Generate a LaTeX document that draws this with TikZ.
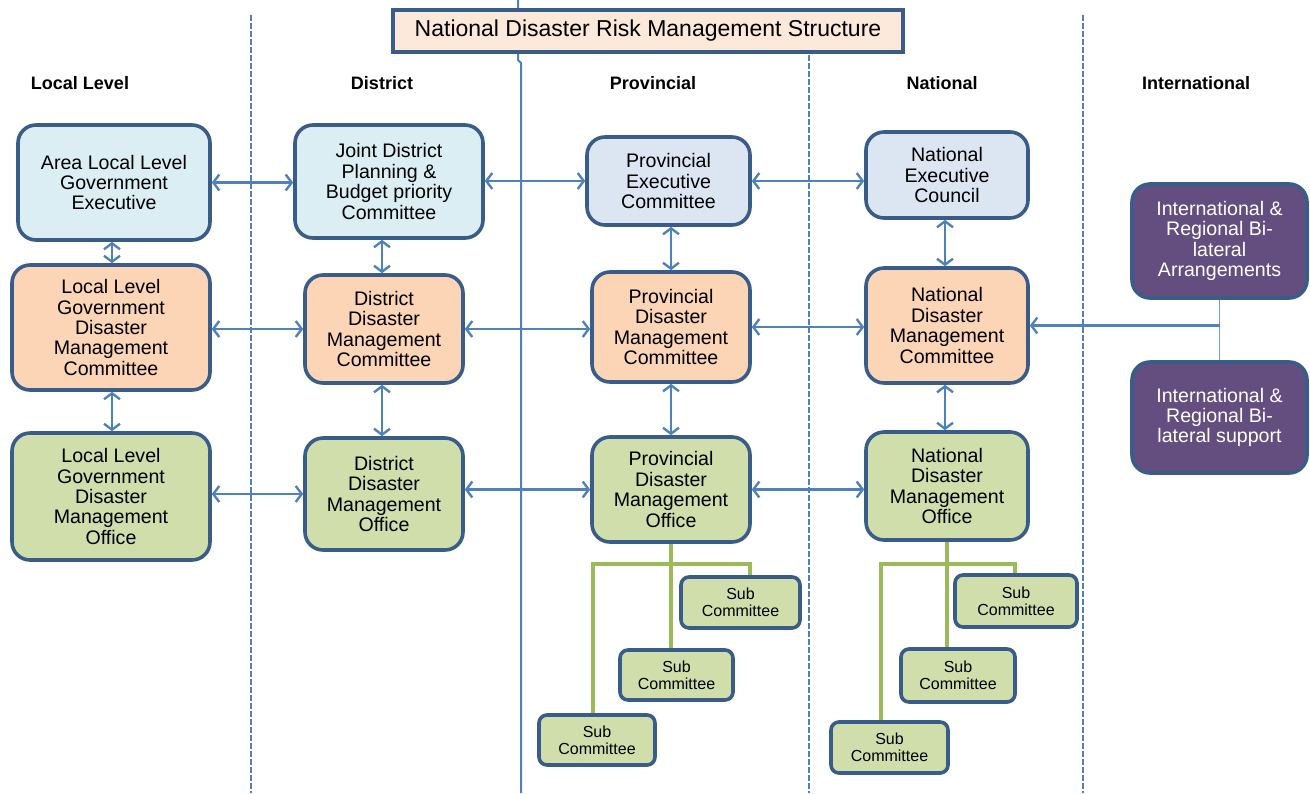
\documentclass[tikz,border=0pt]{standalone}
\usepackage{fontspec}
\setmainfont{Liberation Sans}
\usepackage{tikz}
\usetikzlibrary{positioning}
\usetikzlibrary{arrows.meta}
\definecolor{frame}{RGB}{58,92,136}
\definecolor{arrowblue}{RGB}{79,129,189}
\definecolor{execblue}{RGB}{219,238,243}
\definecolor{provblue}{RGB}{220,230,242}
\definecolor{peach}{RGB}{251,213,181}
\definecolor{leaf}{RGB}{207,222,170}
\definecolor{twiggreen}{RGB}{155,187,89}
\definecolor{plum}{RGB}{100,78,128}
\definecolor{titlefill}{RGB}{253,233,217}
\tikzset{
	unit/.style={
		draw=frame,
		line width=1.8pt,
		rounded corners=9pt,
		align=center,
		inner sep=2pt,
		font=\fontsize{9.8}{10.2}\selectfont},
	sz/.style 2 args={minimum width=#1*0.5pt, minimum height=#2*0.5pt},
	exec/.style={unit, fill=execblue},
	provexec/.style={unit, fill=provblue},
	cttee/.style={unit, fill=peach},
	office/.style={unit, fill=leaf},
	intl/.style={unit, fill=plum, text=white},
	subc/.style={
		draw=frame,
		line width=1.8pt,
		rounded corners=4pt,
		fill=leaf,
		align=center,
		inner sep=1pt,
		font=\fontsize{8}{8.6}\selectfont},
	head/.style={font=\bfseries\fontsize{9}{10}\selectfont},
	sep/.style={draw=arrowblue, line width=1pt, dash pattern=on 3pt off 1pt},
	twig/.style={draw=twiggreen, line width=2pt},
	every edge/.style={
		draw=arrowblue,
		line width=1.2pt,
		{Straight Barb[length=3pt,width=8pt]}-{Straight Barb[length=3pt,width=8pt]}}
}
\begin{document}
\begin{tikzpicture}[x=0.5pt, y=-0.5pt]
	\useasboundingbox (0,0) rectangle (1310,793);
	% column separators
	\draw[sep] (251,15) -- (251,793);
	\draw[draw=arrowblue, line width=1pt] (518,0) -- (518,60) -- (521,63) -- (521,793);
	\draw[sep] (809,55) -- (809,793);
	\draw[sep] (1083,15) -- (1083,793);
	% title and column heads
	\node[draw=frame, line width=2pt, fill=titlefill, sz={510}{42}, font=\fontsize{11.5}{13}\selectfont] (title) at (648,31) {National Disaster Risk Management Structure};
	\node[head] (hLocal) at (80,83) {Local Level};
	\node[head] (hDistrict) at (382,83) {District};
	\node[head] (hProvince) at (653,83) {Provincial};
	\node[head] (hNational) at (942,83) {National};
	\node[head] (hIntl) at (1196,83) {International};
	% local level
	\node[exec, sz={192}{115}] (LE) at (114,182.5) {Area Local Level\\Government\\Executive};
	\node[cttee, sz={198}{125}] (LC) at (111,327.5) {Local Level\\Government\\Disaster\\Management\\Committee};
	\node[office, sz={198}{127}] (LO) at (111,496.5) {Local Level\\Government\\Disaster\\Management\\Office};
	% district
	\node[exec, sz={188}{113}] (DE) at (389,181.5) {Joint District\\Planning \&\\Budget priority\\Committee};
	\node[cttee, sz={158}{108}] (DC) at (384,329) {District\\Disaster\\Management\\Committee};
	\node[office, sz={158}{112}] (DO) at (384,494) {District\\Disaster\\Management\\Office};
	% provincial
	\node[provexec, sz={163}{88}] (PE) at (668.5,181) {Provincial\\Executive\\Committee};
	\node[cttee, sz={158}{110}] (PC) at (671,327) {Provincial\\Disaster\\Management\\Committee};
	\node[office, sz={158}{105}] (PO) at (671,489.5) {Provincial\\Disaster\\Management\\Office};
	% national
	\node[provexec, sz={162}{86}] (NE) at (947,175) {National\\Executive\\Council};
	\node[cttee, sz={162}{115}] (NC) at (947,325.5) {National\\Disaster\\Management\\Committee};
	\node[office, sz={162}{108}] (NO) at (947,486) {National\\Disaster\\Management\\Office};
	% international
	\node[intl, sz={175}{114}] (IA) at (1219.5,241) {International \&\\Regional Bi-\\lateral\\Arrangements};
	\node[intl, sz={175}{111}] (IS) at (1219.5,417.5) {International \&\\Regional Bi-\\lateral support};
	% sub committees
	\node[subc, sz={119}{51}] (PS1) at (740.5,602.5) {Sub\\Committee};
	\node[subc, sz={113}{50}] (PS2) at (676.5,675) {Sub\\Committee};
	\node[subc, sz={116}{50}] (PS3) at (597,740) {Sub\\Committee};
	\node[subc, sz={122}{52}] (NS1) at (1016,601) {Sub\\Committee};
	\node[subc, sz={114}{53}] (NS2) at (958,675.5) {Sub\\Committee};
	\node[subc, sz={117}{51}] (NS3) at (889.5,747.5) {Sub\\Committee};
	% across
	\draw (LE.east) edge (LE.east -| DE.west);
	\draw (PE.west -| DE.east) edge (PE.west);
	\draw (PE.east) edge (PE.east -| NE.west);
	\draw (DC.west -| LC.east) edge (DC.west);
	\draw (DC.east) edge (DC.east -| PC.west);
	\draw (PC.east) edge (PC.east -| NC.west);
	\draw (DO.west -| LO.east) edge (DO.west);
	\draw (PO.west -| DO.east) edge (PO.west);
	\draw (PO.east) edge (PO.east -| NO.west);
	% down
	\draw ([xshift=0.5pt]LC.north) edge ([xshift=0.5pt]LC.north |- LE.south);
	\draw ([xshift=0.5pt]LO.north) edge ([xshift=0.5pt]LC.south);
	\draw ([xshift=-1pt]DC.north) edge ([xshift=-1pt]DC.north |- DE.south);
	\draw ([xshift=-1pt]DO.north) edge ([xshift=-1pt]DC.south);
	\draw (PC.north) edge (PC.north |- PE.south);
	\draw (PO.north) edge (PC.south);
	\draw ([xshift=-1pt]NC.north) edge ([xshift=-1pt]NE.south);
	\draw ([xshift=-1pt]NO.north) edge ([xshift=-1pt]NC.south);
	% international link
	\coordinate (ij) at (IA.south |- NC.east);
	\draw[draw=arrowblue!80, line width=0.9pt] (IA.south) -- (IS.north);
	\draw[draw=arrowblue, line width=1.2pt, -{Straight Barb[length=3pt,width=8pt]}] (ij) -- (NC.east);
	% sub committee tree
	\coordinate[below=10pt of PO.south] (pbar);
	\draw[twig] (PO.south) -- (PO.south |- PS2.north);
	\draw[twig] ([xshift=-2pt]PS3.north) |- (pbar) -| ([xshift=4.5pt]PS1.north);
	\coordinate[below=11pt of NO.south] (nbar);
	\draw[twig] (NO.south) -- (NO.south |- NS2.north);
	\draw[twig] ([xshift=-4.25pt]NS3.north) |- (nbar) -| ([xshift=-0.5pt]NS1.north);
\end{tikzpicture}
\end{document}
